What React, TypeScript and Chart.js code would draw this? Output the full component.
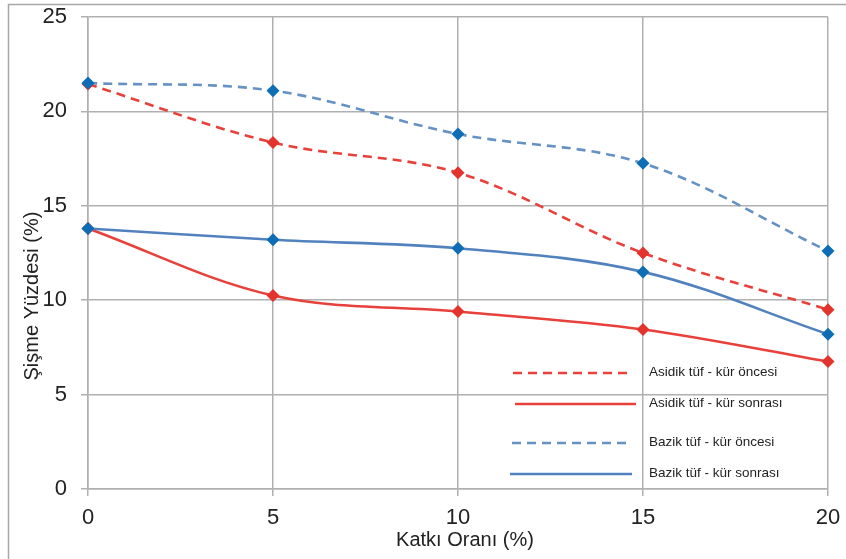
import React, { useEffect, useRef } from "react";
import { Chart, registerables } from "chart.js";

Chart.register(...registerables);

const katkiOrani = [0, 5, 10, 15, 20];
const asidikOncesi = [21.45, 18.35, 16.75, 12.5, 9.5];
const asidikSonrasi = [13.8, 10.25, 9.4, 8.45, 6.75];
const bazikOncesi = [21.5, 21.1, 18.8, 17.25, 12.6];
const bazikSonrasi = [13.8, 13.2, 12.75, 11.5, 8.2];
const seriesNames = [
  "Asidik tüf - kür öncesi",
  "Asidik tüf - kür sonrası",
  "Bazik tüf - kür öncesi",
  "Bazik tüf - kür sonrası",
];
const xTitle = "Katkı Oranı (%)";
const yTitle = "Şişme Yüzdesi (%)";

const RED_LINE = "#E8403A";
const RED_MARK = "#E2342C";
const BLUE_LINE = "#5282BE";
const BLUE_DASH = "#6591C4";
const BLUE_MARK = "#0D6EB6";
const GRID = "#b0b0b0";
const FONT = "'Liberation Sans', Arial, sans-serif";
const LW = 2.6;
const DASH = [9, 6];

const toPts = (ys: number[]) => katkiOrani.map((x, i) => ({ x, y: ys[i] }));

const legendStyles = [
  { color: RED_LINE, dash: DASH, x1: 513, x2: 633, ty: 372 },
  { color: RED_LINE, dash: [], x1: 515, x2: 636, ty: 403 },
  { color: BLUE_DASH, dash: DASH, x1: 512, x2: 632, ty: 442 },
  { color: BLUE_LINE, dash: [], x1: 510, x2: 632, ty: 473 },
];

const decorPlugin = {
  id: "decor",
  beforeDraw(chart: any) {
    const ctx = chart.ctx;
    ctx.save();
    ctx.fillStyle = "#ffffff";
    ctx.fillRect(0, 0, chart.width, chart.height);
    ctx.strokeStyle = "#a8a8a8";
    ctx.lineWidth = 1.5;
    ctx.strokeRect(8.5, 4.5, chart.width + 20, chart.height + 20);
    ctx.restore();
  },
  afterDraw(chart: any) {
    const ctx = chart.ctx;
    ctx.save();
    ctx.fillStyle = "#222";
    ctx.font = `20px ${FONT}`;
    ctx.textAlign = "center";
    ctx.textBaseline = "middle";
    ctx.fillText(xTitle, 465, 540);
    ctx.translate(32, 296);
    ctx.rotate(-Math.PI / 2);
    ctx.fillText(yTitle, 0, 0);
    ctx.restore();

    ctx.save();
    legendStyles.forEach((s, i) => {
      ctx.strokeStyle = s.color;
      ctx.lineWidth = LW;
      ctx.setLineDash(s.dash);
      ctx.beginPath();
      ctx.moveTo(s.x1, s.ty + 1);
      ctx.lineTo(s.x2, s.ty + 1);
      ctx.stroke();
      ctx.setLineDash([]);
      ctx.fillStyle = "#222";
      ctx.font = `13.5px ${FONT}`;
      ctx.textAlign = "left";
      ctx.textBaseline = "middle";
      ctx.fillText(seriesNames[i], 649, s.ty);
    });
    ctx.restore();
  },
};

export default function App() {
  const ref = useRef<HTMLCanvasElement | null>(null);

  useEffect(() => {
    document.body.style.margin = "0";
    const canvas = ref.current;
    if (!canvas) return;
    const common = {
      pointStyle: "rectRot" as const,
      pointRadius: 6.5,
      pointHoverRadius: 6.5,
      pointBorderWidth: 0,
      tension: 0.35,
      fill: false,
      borderWidth: LW,
      clip: false as any,
    };
    const chart = new Chart(canvas, {
      type: "line",
      data: {
        datasets: [
          {
            ...common,
            label: seriesNames[0],
            data: toPts(asidikOncesi),
            borderColor: RED_LINE,
            borderDash: DASH,
            pointBackgroundColor: RED_MARK,
            pointBorderColor: RED_MARK,
            order: 3,
          },
          {
            ...common,
            label: seriesNames[1],
            data: toPts(asidikSonrasi),
            borderColor: RED_LINE,
            pointBackgroundColor: RED_MARK,
            pointBorderColor: RED_MARK,
            order: 4,
          },
          {
            ...common,
            label: seriesNames[2],
            data: toPts(bazikOncesi),
            borderColor: BLUE_DASH,
            borderDash: DASH,
            pointBackgroundColor: BLUE_MARK,
            pointBorderColor: BLUE_MARK,
            order: 1,
          },
          {
            ...common,
            label: seriesNames[3],
            data: toPts(bazikSonrasi),
            borderColor: BLUE_LINE,
            pointBackgroundColor: BLUE_MARK,
            pointBorderColor: BLUE_MARK,
            order: 2,
          },
        ],
      },
      options: {
        responsive: false,
        animation: false,
        layout: { padding: { left: 0, top: 17, right: 18, bottom: 0 } },
        plugins: {
          legend: { display: false },
          tooltip: { enabled: false },
          title: { display: false },
        },
        scales: {
          x: {
            type: "linear",
            min: 0,
            max: 20,
            ticks: {
              stepSize: 5,
              padding: 9,
              color: "#222",
              font: { family: FONT, size: 22 },
            },
            grid: { color: GRID, lineWidth: 1.5, tickLength: 7, drawTicks: true },
            border: { color: GRID, width: 1.5 },
            afterFit: (scale: any) => {
              scale.height = 70;
              scale.paddingLeft = 0;
              scale.paddingRight = 0;
            },
          },
          y: {
            min: 0,
            max: 25,
            ticks: {
              stepSize: 5,
              padding: 14,
              color: "#222",
              font: { family: FONT, size: 22 },
            },
            grid: { color: GRID, lineWidth: 1.5, tickLength: 7, drawTicks: true },
            border: { color: GRID, width: 1.5 },
            afterFit: (scale: any) => {
              scale.width = 88;
              scale.paddingTop = 0;
              scale.paddingBottom = 0;
            },
          },
        },
      },
      plugins: [decorPlugin],
    });
    return () => chart.destroy();
  }, []);

  return (
    <div style={{ width: 846, height: 559, background: "#fff" }}>
      <canvas ref={ref} width={846} height={559} style={{ display: "block" }} />
    </div>
  );
}
